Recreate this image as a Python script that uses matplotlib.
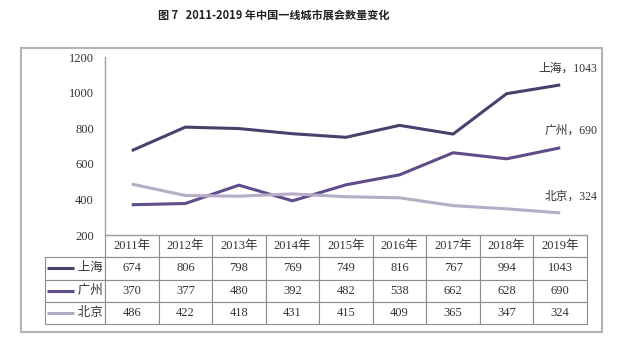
import matplotlib
matplotlib.use("Agg")
import matplotlib.pyplot as plt
from matplotlib.patches import Rectangle

plt.rcParams["font.family"] = ["Liberation Serif", "Noto Sans CJK SC", "DejaVu Sans"]

# Data.
years = ["2011年", "2012年", "2013年", "2014年", "2015年", "2016年", "2017年", "2018年", "2019年"]
cities = ["上海", "广州", "北京"]
shanghai = [674, 806, 798, 769, 749, 816, 767, 994, 1043]
guangzhou = [370, 377, 480, 392, 482, 538, 662, 628, 690]
beijing = [486, 422, 418, 431, 415, 409, 365, 347, 324]
series = [shanghai, guangzhou, beijing]
colors = ["#4d3f6b", "#5f4c8b", "#b5adc6"]
y_ticks = [200, 400, 600, 800, 1000, 1200]

W, H = 619, 344
fig = plt.figure(figsize=(W / 100, H / 100), dpi=100)

# Outer grey frame round the whole chart.
fig.patches.append(Rectangle((21 / W, 12 / H), 581 / W, 284 / H, transform=fig.transFigure,
                             fill=False, edgecolor="#b4b4b4", linewidth=1.5))

fig.text(274 / W, 1 - 15 / H, "图 7   2011-2019 年中国一线城市展会数量变化",
         family=["Noto Sans CJK SC"], fontweight="bold", fontsize=8,
         ha="center", va="center", color="#222222")

ax = fig.add_axes([105 / W, 109 / H, 482 / W, 178 / H])
x = list(range(len(years)))
for name, vals, c in zip(cities, series, colors):
    ax.plot(x, vals, color=c, linewidth=2.2, solid_capstyle="butt")
    ax.annotate(f"{name}，{vals[-1]}", xy=(x[-1], vals[-1]), xytext=(27, 12),
                textcoords="offset points", ha="right", va="center",
                fontsize=8.5, color="#333333")

ax.set_xlim(-0.5, len(years) - 0.5)
ax.set_ylim(200, 1200)
ax.set_yticks(y_ticks)
ax.set_xticks([])
ax.tick_params(axis="y", length=0, pad=8, labelsize=9, labelcolor="#333333")
for side in ["top", "right"]:
    ax.spines[side].set_visible(False)
for side in ["left", "bottom"]:
    ax.spines[side].set_color("#a0a0a0")
    ax.spines[side].set_linewidth(1.0)

# Data table under the axis.
cell_text = [["      " + name] + [str(v) for v in vals] for name, vals in zip(cities, series)]
tab = ax.table(cellText=cell_text, colLabels=[""] + years,
               colWidths=[60] + [53.5] * len(years),
               cellLoc="center", bbox=[-60 / 482, -0.5, 542 / 482, 0.5])
tab.auto_set_font_size(False)
tab.set_fontsize(9)
for (r, c), cell in tab.get_celld().items():
    cell.set_edgecolor("#8c8c8c")
    cell.set_linewidth(0.8)
    cell.get_text().set_color("#333333")
    if c == 0:
        cell.get_text().set_ha("right")
        cell._loc = "right"
        cell.PAD = 0.04
tab[(0, 0)].visible_edges = ""

# Legend keys in the first column.
row_h = 0.5 / 4
for i, c in enumerate(colors):
    yc = -0.5 + row_h * (3 - i - 0.5)
    ax.plot([-58 / 482, -31 / 482], [yc, yc], color=c, linewidth=2.2,
            transform=ax.transAxes, clip_on=False, solid_capstyle="butt")

fig.savefig("out.png", dpi=100)
